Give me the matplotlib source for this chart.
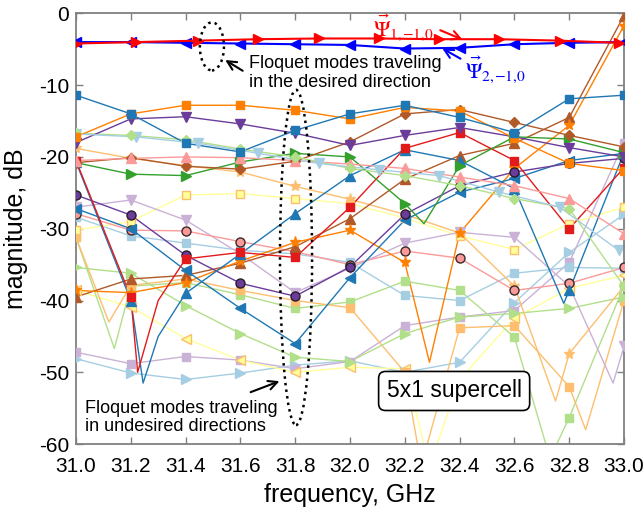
import matplotlib
matplotlib.use("Agg")
import matplotlib.pyplot as plt
from matplotlib.patches import Ellipse

plt.rcParams['font.family'] = ['Liberation Sans', 'DejaVu Sans']
plt.rcParams['mathtext.fontset'] = 'stix'
plt.rcParams['axes.unicode_minus'] = False

# frequency grids (GHz)
freq = [31.0, 31.2, 31.4, 31.6, 31.8, 32.0, 32.2, 32.4, 32.6, 32.8, 33.0]
freq_b = [31.0, 31.22, 31.445, 31.665, 31.885, 32.105, 32.325, 32.545, 32.765, 32.98]

# desired Floquet modes
psi1 = [-4.2, -4.0, -3.8, -3.6, -3.5, -3.5, -3.6, -3.6, -3.8, -4.1]
psi2 = [-4.0, -4.0, -4.1, -4.2, -4.3, -4.4, -4.9, -4.8, -4.3, -4.1, -4.0]

# undesired Floquet modes (values at freq, dB)
blue_sq = [-11.4, -14.0, -18.1, -19.3, -16.3, -14.0, -12.8, -14.5, -16.6, -11.9, -11.4]
orange_sq = [-17.2, -14.0, -12.8, -12.8, -13.5, -14.7, -13.1, -13.6, -17.4, -20.9, -21.9]
purple_v = [-18.0, -14.7, -14.4, -15.4, -16.7, -18.4, -17.0, -15.9, -17.2, -18.7, -20.0]
lgreen_d = [-16.7, -17.0, -17.6, -18.9, -20.0, -21.6, -22.6, -24.0, -25.8, -27.2, -38.0]
pink_up = [-20.5, -20.2, -20.0, -20.1, -20.5, -21.0, -21.6, -22.8, -24.0, -25.8, -30.7]
brown_d = [-20.8, -20.1, -21.3, -21.7, -20.6, -17.9, -14.0, -13.4, -15.2, -17.0, -18.6]
green_r = [-20.8, -22.4, -22.6, -20.7, -19.5, -20.0, -26.5, -21.2, -17.2, -17.5, -19.4]
red_sq = [-20.5, -39.5, -34.2, -33.3, -34.0, -27.0, -18.8, -16.6, -20.5, -30.0, -21.5]
blue_up = [-20.7, -40.0, -39.0, -33.5, -27.9, -22.6, -19.0, -20.5, -24.4, -38.6, -19.4]
blue_l = [-27.2, -30.0, -35.8, -41.1, -46.0, -36.8, -28.8, -24.9, -23.0, -20.5, -19.5]
purple_o = [-25.3, -28.1, -33.7, -37.6, -39.4, -35.3, -28.0, -24.0, -22.1, -20.9, -20.2]
pink_o = [-27.9, -30.2, -30.3, -31.8, -33.2, -35.0, -33.1, -34.1, -38.6, -37.6, -35.4]
lpurple_v = [-27.0, -26.0, -28.8, -33.5, -38.9, -35.5, -32.0, -30.5, -31.2, -38.0, -46.4]
lyellow_sq = [-30.2, -29.0, -25.3, -25.1, -25.8, -26.5, -28.5, -31.0, -32.9, -29.3, -27.0]
lorange_star = [-18.8, -20.2, -21.2, -22.1, -24.1, -25.9, -28.0, -30.6, -38.0, -47.4, -38.0]
orange_star = [-38.6, -38.9, -37.5, -34.5, -31.9, -30.2, -34.7, -30.6, -21.6, -15.6, -1.7]
brown_up = [-39.5, -37.0, -36.5, -34.8, -32.5, -28.6, -23.1, -19.8, -18.1, -14.5, -0.3]
lgreen_r = [-35.4, -36.2, -40.7, -44.6, -47.9, -48.5, -44.6, -42.3, -41.8, -41.1, -39.5]
lblue_r = [-48.1, -50.1, -51.0, -50.1, -49.0, -48.4, -50.0, -48.6, -40.3, -33.3, -28.0]
lpurple_sq = [-47.2, -48.8, -47.8, -48.3, -49.5, -48.5, -43.5, -42.3, -41.4, -34.7, -18.0]
lyellow_l = [-38.6, -40.9, -45.3, -48.3, -50.0, -49.3, -49.5, -51.0, -42.5, -38.3, -36.5]
lgreen_sq = [-31.2, -38.0, -37.5, -39.2, -41.1, -40.2, -37.3, -38.6, -45.1, -56.3, -38.0]
lorange_sq = [-31.2, -37.9, -37.0, -38.6, -40.0, -41.0, -50.0, -43.8, -43.5, -52.0, -40.0]
lblue_sq = [-28.4, -31.0, -32.0, -33.0, -33.5, -34.7, -39.3, -40.0, -36.2, -35.4, -35.5]
lblue_v = [-16.8, -17.2, -18.1, -19.5, -20.9, -21.8, -22.6, -24.9, -27.0, -33.0]

# sharp dips between markers (freq, dB)
red_sq_dips = [(31.225, -50.0), (31.3, -40.0)]
blue_up_dips = [(31.245, -51.5), (31.3, -45.0), (32.78, -40.4)]
green_r_dips = [(32.27, -29.3)]
orange_star_dips = [(32.29, -48.6)]
lpurple_v_dips = [(32.96, -51.5)]
lorange_star_dips = [(32.75, -54.0)]
lyellow_l_dips = [(32.29, -63.0)]
lgreen_sq_dips = [(31.14, -46.7), (32.73, -62.0)]
lorange_sq_dips = [(31.12, -43.0), (32.26, -63.0), (32.86, -58.0)]

series = [
    (lblue_r, [], '#a6cee3', '>', 7, '#a6cee3'),
    (lpurple_sq, [], '#cab2d6', 's', 5.5, '#cab2d6'),
    (lyellow_l, lyellow_l_dips, '#ffff99', '<', 7, '#fdbf6f'),
    (lgreen_sq, lgreen_sq_dips, '#b2df8a', 's', 5.5, '#b2df8a'),
    (lorange_sq, lorange_sq_dips, '#fdbf6f', 's', 5.5, '#fdbf6f'),
    (lgreen_r, [], '#b2df8a', '>', 7, '#b2df8a'),
    (lblue_sq, [], '#a6cee3', 's', 5.5, '#a6cee3'),
    (lyellow_sq, [], '#ffff99', 's', 5.5, '#fdbf6f'),
    (lpurple_v, lpurple_v_dips, '#cab2d6', 'v', 7, '#cab2d6'),
    (lorange_star, lorange_star_dips, '#fdbf6f', '*', 8, '#fdbf6f'),
    (pink_o, [], '#fb9a99', 'o', 6.5, '#3a2a2a'),
    (brown_up, [], '#b15928', '^', 7, '#b15928'),
    (orange_star, orange_star_dips, '#ff7f00', '*', 8, '#ff7f00'),
    (blue_l, [], '#1f78b4', '<', 7, '#1f78b4'),
    (purple_o, [], '#6a3d9a', 'o', 6.5, '#2a1a2a'),
    (blue_up, blue_up_dips, '#1f78b4', '^', 7, '#1f78b4'),
    (red_sq, red_sq_dips, '#e31a1c', 's', 5.5, '#e31a1c'),
    (green_r, green_r_dips, '#33a02c', '>', 7, '#33a02c'),
    (brown_d, [], '#b15928', 'D', 5.5, '#b15928'),
    (pink_up, [], '#fb9a99', '^', 7, '#fb9a99'),
    (lgreen_d, [], '#b2df8a', 'D', 5.5, '#b2df8a'),
    (purple_v, [], '#6a3d9a', 'v', 7, '#6a3d9a'),
    (orange_sq, [], '#ff7f00', 's', 5.5, '#ff7f00'),
    (blue_sq, [], '#1f78b4', 's', 5.5, '#1f78b4'),
]

fig = plt.figure(figsize=(6.44, 5.14), dpi=100)
ax = fig.add_axes([0.118, 0.136, 0.851, 0.838])

for vals, dips, col, mk, ms, ec in series:
    pts = sorted(list(zip(freq, vals)) + dips)
    ax.plot([p[0] for p in pts], [p[1] for p in pts], color=col, lw=1.0, zorder=2)
    ax.plot(freq, vals, ls='none', marker=mk, ms=ms, mfc=col, mec=ec, mew=1.0, zorder=3)

ax.plot(freq_b, lblue_v, color='#a6cee3', lw=1.0, marker='v', ms=7, zorder=2.5)

ax.plot(freq, psi2, color='#0000ff', lw=1.5, marker='<', ms=7.5, zorder=5)
ax.plot(freq_b, psi1, color='#ff0000', lw=1.5, marker='>', ms=7.5, zorder=5)

# annotations
ax.add_patch(Ellipse((31.496, -4.6), 0.088, 6.7, fill=False, ls=':', lw=1.8, color='k', zorder=6))
ax.add_patch(Ellipse((31.803, -34.0), 0.117, 46.7, fill=False, ls=':', lw=1.8, color='k', zorder=6))

ax.text(31.63, -8.3, "Floquet modes traveling\nin the desired direction", fontsize=13,
        va='center', ha='left', linespacing=1.1, zorder=7)
ax.annotate('', xy=(31.536, -6.3), xytext=(31.617, -8.2),
            arrowprops=dict(arrowstyle='->', lw=1.5, color='k', mutation_scale=16), zorder=7)
ax.text(31.033, -56.3, "Floquet modes traveling\nin undesired directions", fontsize=13,
        va='center', ha='left', linespacing=1.1, zorder=7)
ax.annotate('', xy=(31.752, -51.1), xytext=(31.628, -52.9),
            arrowprops=dict(arrowstyle='->', lw=1.5, color='k', mutation_scale=16), zorder=7)

ax.text(32.38, -52.6, "5x1 supercell", fontsize=16.5, ha='center', va='center', zorder=7,
        bbox=dict(boxstyle='round,pad=0.35,rounding_size=0.3', fc='white', ec='k', lw=1.2))

ax.text(32.085, -2.0, r"$\vec{\Psi}_{1,\!{-}1,\!0}$", color='#ff0000', fontsize=16,
        ha='left', va='center', zorder=7)
ax.annotate('', xy=(32.42, -3.8), xytext=(32.32, -2.2),
            arrowprops=dict(arrowstyle='->', lw=1.5, color='#ff0000', mutation_scale=16), zorder=7)
ax.text(32.42, -7.8, r"$\vec{\Psi}_{2,\!{-}1,\!0}$", color='#0000ff', fontsize=16,
        ha='left', va='center', zorder=7)
ax.annotate('', xy=(32.328, -4.7), xytext=(32.412, -6.5),
            arrowprops=dict(arrowstyle='->', lw=1.5, color='#0000ff', mutation_scale=16), zorder=7)

ax.set_xlim(31.0, 33.0)
ax.set_ylim(-60, 0)
ax.set_xticks(freq)
ax.set_xticklabels([f"{f:.1f}" for f in freq])
ax.set_yticks([0, -10, -20, -30, -40, -50, -60])
ax.tick_params(direction='in', top=True, right=True, length=5, width=1, labelsize=15,
               color='#808080')
ax.tick_params(axis='x', pad=9)
ax.tick_params(axis='y', pad=5)
for s in ax.spines.values():
    s.set_color('#808080')
    s.set_linewidth(1.3)
ax.set_xlabel("frequency, GHz", fontsize=18, labelpad=5)
ax.set_ylabel("magnitude, dB", fontsize=18, labelpad=8)

fig.savefig("out.png", dpi=100)
